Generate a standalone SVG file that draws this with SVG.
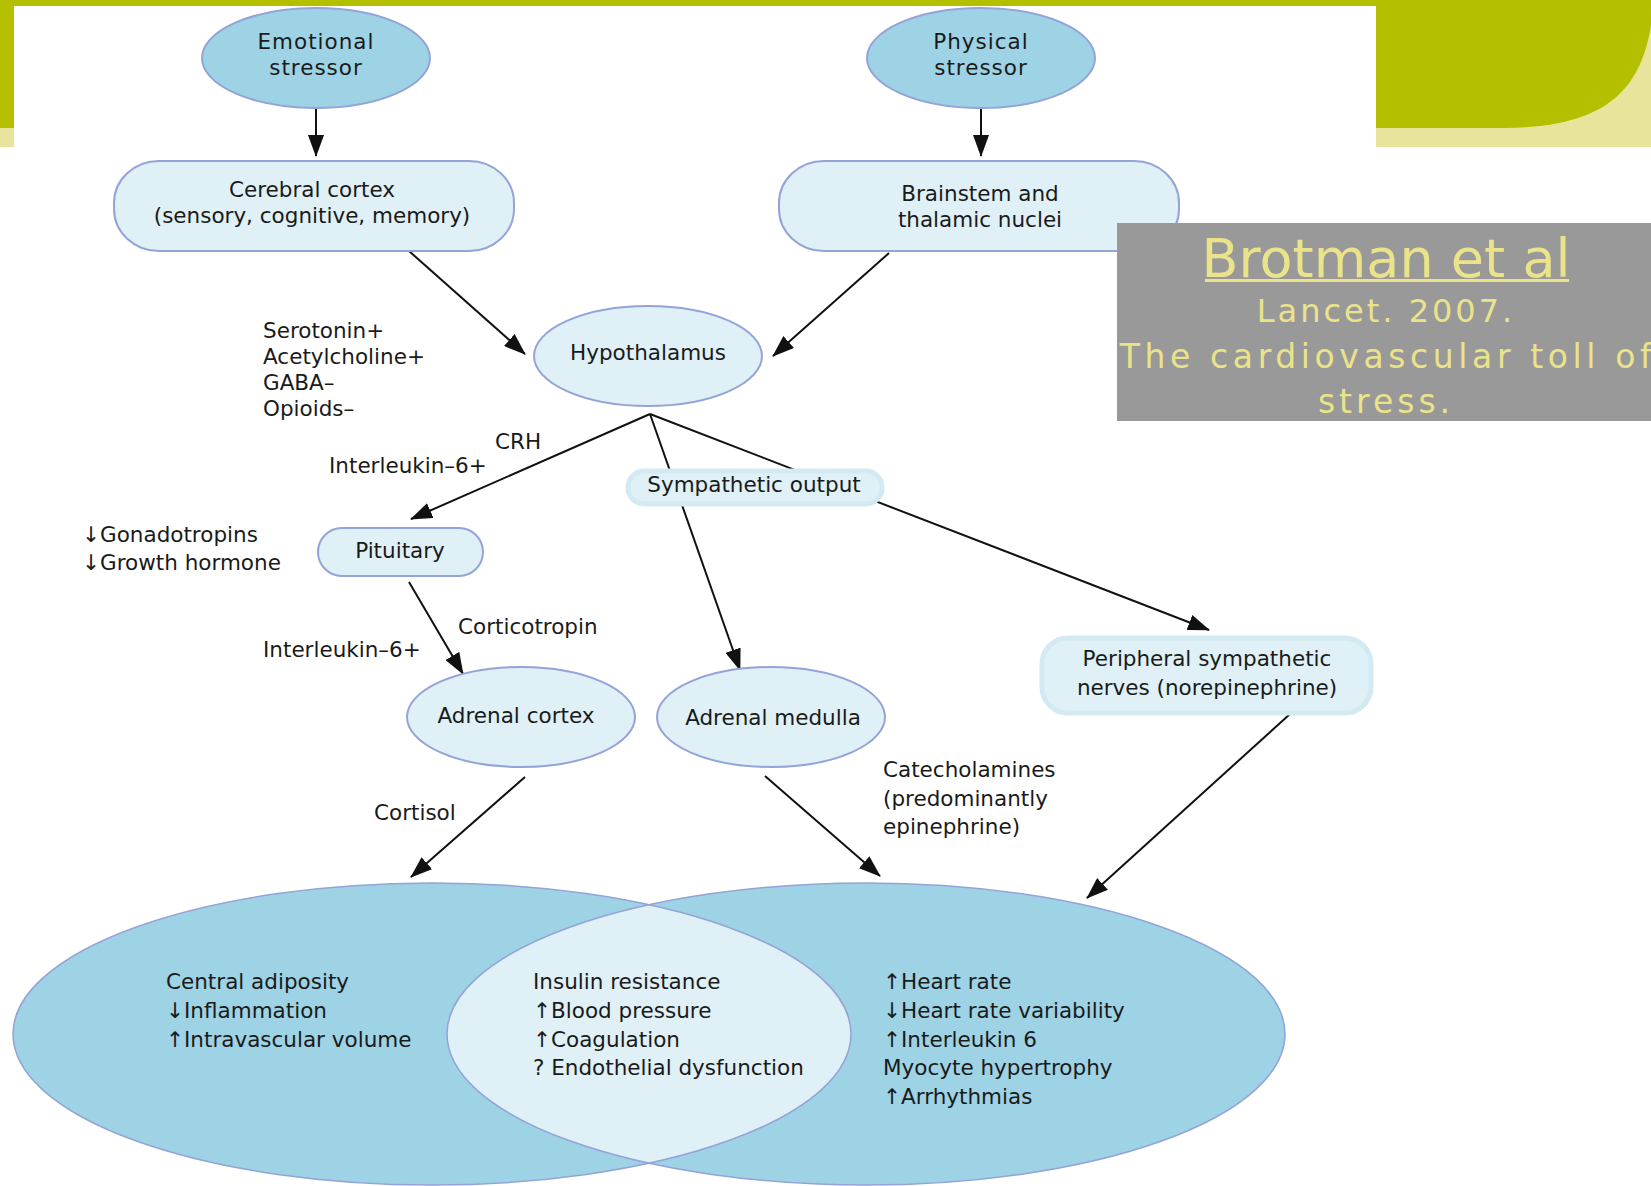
<svg xmlns="http://www.w3.org/2000/svg" width="1651" height="1186" viewBox="0 0 1651 1186">
<defs>
<style>
.t{font-family:"DejaVu Sans","Liberation Sans",sans-serif;font-size:21.5px;fill:#1a1a1a}
.c{text-anchor:middle}
.ln{stroke:#111;stroke-width:2;fill:none}
.dark{fill:#9dd3e5;stroke:#94a3d8;stroke-width:2}
.light{fill:#dff0f6;stroke:#94a3d8;stroke-width:2}
.glow{fill:#dff0f6;stroke:#d3eaf3;stroke-width:5}
.ref{font-family:"DejaVu Sans","Liberation Sans",sans-serif;fill:#ebe38a;text-anchor:middle}
</style>
<marker id="ah" viewBox="0 0 22 16" refX="21" refY="8" markerWidth="22" markerHeight="16" markerUnits="userSpaceOnUse" orient="auto">
<path d="M0,0 L22,8 L0,16 Z" fill="#111"/>
</marker>
<clipPath id="clipL"><ellipse cx="432" cy="1034" rx="419" ry="151"/></clipPath>
</defs>

<g id="background">
<rect x="0" y="0" width="1651" height="1186" fill="#ffffff"/>
<rect x="0" y="0" width="1651" height="147" fill="#e9e49b"/>
<path d="M0,0 H1651 V25 C1640,95 1600,127 1505,128 H0 Z" fill="#b4bf00"/>
<rect x="14" y="6" width="1362" height="1180" fill="#ffffff"/>
</g>

<g id="connectors">
<line class="ln" x1="316" y1="108" x2="316" y2="156" marker-end="url(#ah)"/>
<line class="ln" x1="981" y1="108" x2="981" y2="156" marker-end="url(#ah)"/>
<line class="ln" x1="409" y1="251" x2="525" y2="354" marker-end="url(#ah)"/>
<line class="ln" x1="889" y1="253" x2="773" y2="356" marker-end="url(#ah)"/>
<line class="ln" x1="650" y1="414" x2="411" y2="519" marker-end="url(#ah)"/>
<line class="ln" x1="650" y1="414" x2="740" y2="670" marker-end="url(#ah)"/>
<line class="ln" x1="650" y1="414" x2="1209" y2="630" marker-end="url(#ah)"/>
<line class="ln" x1="409" y1="582" x2="463" y2="674" marker-end="url(#ah)"/>
<line class="ln" x1="525" y1="777" x2="411" y2="877" marker-end="url(#ah)"/>
<line class="ln" x1="765" y1="776" x2="880" y2="876" marker-end="url(#ah)"/>
<line class="ln" x1="1290" y1="714" x2="1087" y2="898" marker-end="url(#ah)"/>
</g>

<g id="emotional-stressor">
<ellipse class="dark" cx="316" cy="58" rx="114" ry="50"/>
<text class="t c" x="316" y="49" letter-spacing="1">Emotional</text>
<text class="t c" x="316" y="75" letter-spacing="1">stressor</text>
</g>
<g id="physical-stressor">
<ellipse class="dark" cx="981" cy="58" rx="114" ry="50"/>
<text class="t c" x="981" y="49" letter-spacing="1">Physical</text>
<text class="t c" x="981" y="75" letter-spacing="1">stressor</text>
</g>

<g id="cerebral-cortex">
<rect class="light" x="114" y="161" width="400" height="90" rx="45" ry="42"/>
<text class="t c" x="312" y="197">Cerebral cortex</text>
<text class="t c" x="312" y="223">(sensory, cognitive, memory)</text>
</g>
<g id="brainstem">
<rect class="light" x="779" y="161" width="400" height="90" rx="45" ry="42"/>
<text class="t c" x="980" y="201">Brainstem and</text>
<text class="t c" x="980" y="227">thalamic nuclei</text>
</g>

<g id="hypothalamus">
<ellipse class="light" cx="648" cy="356" rx="114" ry="50"/>
<text class="t c" x="648" y="360">Hypothalamus</text>
</g>

<g id="neurotransmitters">
<text class="t" x="263" y="338">Serotonin+</text>
<text class="t" x="263" y="364">Acetylcholine+</text>
<text class="t" x="263" y="390">GABA–</text>
<text class="t" x="263" y="416">Opioids–</text>
</g>

<g id="labels">
<text class="t" x="495" y="449">CRH</text>
<text class="t" x="329" y="473">Interleukin–6+</text>
<text class="t" x="82" y="542">↓Gonadotropins</text>
<text class="t" x="82" y="570">↓Growth hormone</text>
<text class="t" x="458" y="634">Corticotropin</text>
<text class="t" x="263" y="657">Interleukin–6+</text>
<text class="t" x="374" y="820">Cortisol</text>
<text class="t" x="883" y="777">Catecholamines</text>
<text class="t" x="883" y="806">(predominantly</text>
<text class="t" x="883" y="834">epinephrine)</text>
</g>

<g id="sympathetic-output">
<rect class="glow" x="628" y="471" width="254" height="33" rx="16"/>
<text class="t c" x="754" y="492">Sympathetic output</text>
</g>

<g id="pituitary">
<rect class="light" x="318" y="528" width="165" height="48" rx="24"/>
<text class="t c" x="400" y="558">Pituitary</text>
</g>

<g id="adrenal-cortex">
<ellipse class="light" cx="521" cy="717" rx="114" ry="50"/>
<text class="t c" x="516" y="723">Adrenal cortex</text>
</g>
<g id="adrenal-medulla">
<ellipse class="light" cx="771" cy="717" rx="114" ry="50"/>
<text class="t c" x="773" y="725">Adrenal medulla</text>
</g>

<g id="peripheral-nerves">
<rect class="glow" x="1042" y="638" width="329" height="75" rx="26"/>
<text class="t c" x="1207" y="666">Peripheral sympathetic</text>
<text class="t c" x="1207" y="695">nerves (norepinephrine)</text>
</g>

<g id="outcomes-venn">
<ellipse cx="432" cy="1034" rx="419" ry="151" fill="#9dd3e5"/>
<ellipse cx="866" cy="1034" rx="419" ry="151" fill="#9dd3e5"/>
<ellipse cx="866" cy="1034" rx="419" ry="151" fill="#dff0f6" clip-path="url(#clipL)"/>
<ellipse cx="432" cy="1034" rx="419" ry="151" fill="none" stroke="#94a3d8" stroke-width="1.5"/>
<ellipse cx="866" cy="1034" rx="419" ry="151" fill="none" stroke="#94a3d8" stroke-width="1.5"/>
<text class="t" x="166" y="989">Central adiposity</text>
<text class="t" x="166" y="1018">↓Inflammation</text>
<text class="t" x="166" y="1047">↑Intravascular volume</text>
<text class="t" x="533" y="989">Insulin resistance</text>
<text class="t" x="533" y="1018">↑Blood pressure</text>
<text class="t" x="533" y="1047">↑Coagulation</text>
<text class="t" x="533" y="1075">? Endothelial dysfunction</text>
<text class="t" x="883" y="989">↑Heart rate</text>
<text class="t" x="883" y="1018">↓Heart rate variability</text>
<text class="t" x="883" y="1047">↑Interleukin 6</text>
<text class="t" x="883" y="1075">Myocyte hypertrophy</text>
<text class="t" x="883" y="1104">↑Arrhythmias</text>
</g>

<g id="reference-box">
<rect x="1117" y="223" width="534" height="198" fill="#999999"/>
<text class="ref" x="1386" y="277" font-size="54">Brotman et al</text>
<rect x="1205" y="279" width="364" height="3" fill="#ebe38a"/>
<text class="ref" x="1386" y="322" font-size="32" letter-spacing="3">Lancet. 2007.</text>
<text class="ref" x="1388" y="368" font-size="33" letter-spacing="4.6">The cardiovascular toll of</text>
<text class="ref" x="1386" y="413" font-size="33" letter-spacing="4">stress.</text>
</g>
</svg>
